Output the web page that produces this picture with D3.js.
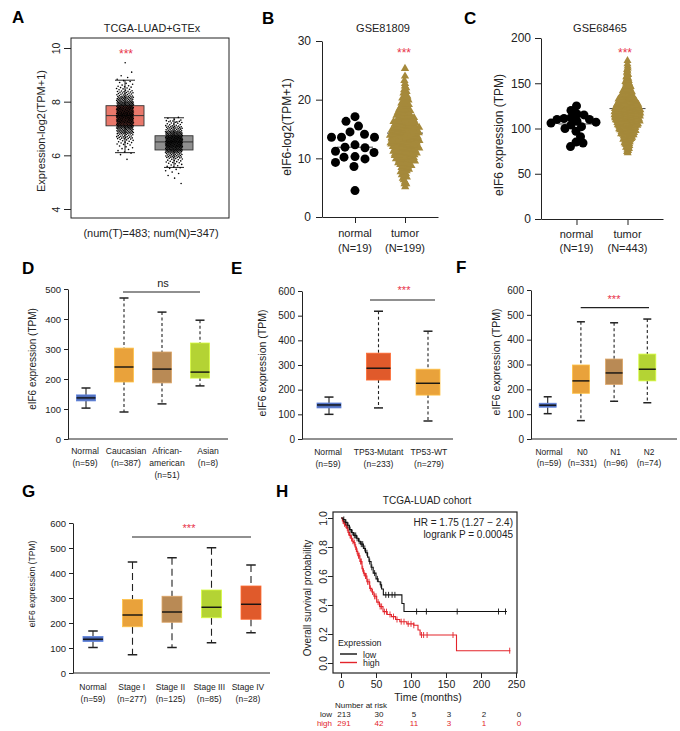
<!DOCTYPE html>
<html><head><meta charset="utf-8">
<script src="https://cdn.jsdelivr.net/npm/d3@7"></script>
<style>
body{margin:0;background:#fff;}
svg{display:block;}
</style></head><body>
<svg id="fig" width="680" height="731"></svg>
<script>
// ================= DATA =================
// Panel A  (TCGA-LUAD+GTEx, log2(TPM+1))
const aCategories = ["Tumor", "Normal"];
const aLow    = [6.10, 5.55];
const aQ1     = [7.10, 6.20];
const aMedian = [7.48, 6.50];
const aQ3     = [7.85, 6.73];
const aHigh   = [8.80, 7.40];
const aYTicks = [4, 6, 8, 10];
const aTumorBinValues  = [5.85, 6.1, 6.3, 6.5, 6.7, 6.9, 7.1, 7.3, 7.5, 7.7, 7.9, 8.1, 8.3, 8.5, 8.7, 8.9, 9.1, 9.45];
const aTumorBinCounts  = [1, 4, 6, 12, 22, 38, 55, 68, 76, 68, 52, 36, 22, 12, 6, 3, 1, 1];
const aNormalBinValues = [4.95, 5.2, 5.4, 5.6, 5.8, 6.0, 6.2, 6.4, 6.6, 6.8, 7.0, 7.2, 7.33];
const aNormalBinCounts = [1, 2, 4, 8, 14, 28, 50, 70, 72, 50, 28, 14, 6];

// Panel B  (GSE81809)
const bCategories = ["normal", "tumor"];
const bCounts = ["(N=19)", "(N=199)"];
const bYTicks = [0, 10, 20, 30];
const bNormal = [4.5, 8.6, 9.3, 9.9, 10.2, 10.3, 11.0, 11.2, 11.8, 11.9, 12.3, 13.6, 13.6, 13.6, 14.1, 14.5, 15.5, 16.3, 17.1];
const bTumorBinValues = [5.4, 6, 7, 8, 9, 10, 11, 12, 13, 14, 15, 16, 17, 18, 19, 20, 21, 22, 23, 24, 25.3];
const bTumorBinCounts = [2, 3, 5, 7, 10, 14, 17, 19, 20, 20, 19, 16, 13, 10, 7, 6, 4, 3, 2, 1, 1];
const bMeans = [11.9, 14.3];

// Panel C  (GSE68465)
const cCategories = ["normal", "tumor"];
const cCounts = ["(N=19)", "(N=443)"];
const cYTicks = [0, 50, 100, 150, 200];
const cNormal = [80, 84, 85, 91, 97, 100, 102, 104, 106, 107, 108, 110, 110, 111, 112, 115, 116, 120, 125];
const cTumorBinValues = [75, 80, 85, 90, 95, 100, 105, 110, 115, 120, 125, 130, 135, 140, 145, 150, 155, 160, 165, 170, 175];
const cTumorBinCounts = [4, 8, 12, 18, 26, 32, 40, 46, 49, 49, 43, 34, 25, 19, 13, 9, 6, 4, 3, 2, 1];
const cMeans = [105, 122];

// Panel D  (race)
const dCategories = ["Normal", "Caucasian", "African-american", "Asian"];
const dLabelLines = [["Normal", "(n=59)"], ["Caucasian", "(n=387)"], ["African-", "american", "(n=51)"], ["Asian", "(n=8)"]];
const dMin    = [103, 90, 117, 177];
const dQ1     = [127, 190, 187, 203];
const dMedian = [137, 240, 233, 223];
const dQ3     = [147, 303, 290, 320];
const dMax    = [170, 470, 423, 396];
const dYTicks = [0, 100, 200, 300, 400, 500];

// Panel E  (TP53 status)
const eCategories = ["Normal", "TP53-Mutant", "TP53-WT"];
const eLabelLines = [["Normal", "(n=59)"], ["TP53-Mutant", "(n=233)"], ["TP53-WT", "(n=279)"]];
const eMin    = [100, 126, 73];
const eQ1     = [126, 239, 178];
const eMedian = [138, 287, 226];
const eQ3     = [146, 348, 283];
const eMax    = [170, 518, 437];
const eYTicks = [0, 100, 200, 300, 400, 500, 600];

// Panel F  (nodal metastasis)
const fCategories = ["Normal", "N0", "N1", "N2"];
const fLabelLines = [["Normal", "(n=59)"], ["N0", "(n=331)"], ["N1", "(n=96)"], ["N2", "(n=74)"]];
const fMin    = [102, 74, 152, 146];
const fQ1     = [128, 184, 220, 234];
const fMedian = [136, 234, 266, 281];
const fQ3     = [144, 298, 322, 342];
const fMax    = [170, 472, 468, 483];
const fYTicks = [0, 100, 200, 300, 400, 500, 600];

// Panel G  (stage)
const gCategories = ["Normal", "Stage I", "Stage II", "Stage III", "Stage IV"];
const gLabelLines = [["Normal", "(n=59)"], ["Stage I", "(n=277)"], ["Stage II", "(n=125)"], ["Stage III", "(n=85)"], ["Stage IV", "(n=28)"]];
const gMin    = [102, 73, 102, 121, 161];
const gQ1     = [126, 185, 203, 221, 215];
const gMedian = [135, 232, 244, 263, 275];
const gQ3     = [146, 294, 307, 332, 348];
const gMax    = [168, 444, 461, 501, 432];
const gYTicks = [0, 100, 200, 300, 400, 500, 600];

// Panel H  (Kaplan-Meier, TCGA-LUAD)
const hXTicks = [0, 50, 100, 150, 200, 250];
const hYTicks = [0, 0.2, 0.4, 0.6, 0.8, 1.0];
const kmLowTimes  = [0, 3, 6, 9, 12, 15, 18, 22, 25, 28, 32, 35, 38, 40, 43, 46, 50, 53, 56, 58, 60.5, 87, 90];
const kmLowSurv   = [1, 0.99, 0.97, 0.95, 0.92, 0.90, 0.88, 0.86, 0.84, 0.82, 0.79, 0.76, 0.73, 0.70, 0.66, 0.62, 0.58, 0.56, 0.54, 0.51, 0.47, 0.41, 0.355];
const kmLowEnd = 237;
const kmHighTimes = [0, 2, 4, 6, 8, 10, 12, 14, 16, 18, 20, 22, 24, 27, 30, 32, 34, 37, 41, 44, 47, 51, 55, 60, 66, 72, 78, 84, 94, 104, 110, 113, 165];
const kmHighSurv  = [1, 0.98, 0.96, 0.95, 0.93, 0.90, 0.88, 0.86, 0.84, 0.83, 0.80, 0.77, 0.74, 0.70, 0.65, 0.62, 0.60, 0.56, 0.515, 0.49, 0.46, 0.42, 0.39, 0.354, 0.335, 0.32, 0.30, 0.285, 0.27, 0.26, 0.228, 0.193, 0.085];
const kmHighEnd = 242;
const kmLowCensor  = [4, 7, 10, 13, 16, 19, 21, 23, 26, 29, 31, 34, 37, 41, 44, 48, 52, 57, 64, 68, 73, 77, 108, 122, 166, 225, 235];
const kmHighCensor = [3, 5, 7, 9, 11, 13, 15, 17, 19, 21, 23, 25, 26, 28, 29, 31, 33, 35, 36, 38, 40, 42, 45, 48, 50, 53, 56, 58, 62, 65, 70, 75, 80, 86, 90, 96, 100, 104, 115, 118, 123, 160, 241];
const riskTimes = [0, 50, 100, 150, 200, 250];
const riskLow  = [213, 30, 5, 3, 2, 0];
const riskHigh = [291, 42, 11, 3, 1, 0];

// ================= DRAWING =================
const FONT = '"Liberation Sans", Arial, Helvetica, sans-serif';
const INK = "#222";
const STAR = "#E8334A";
const svg = d3.select("#fig");
svg.append("rect").attr("width", 680).attr("height", 731).attr("fill", "#fff");

function styleAxis(sel, size) {
  sel.attr("font-family", FONT).attr("font-size", size);
  sel.selectAll("text").attr("fill", INK);
  sel.selectAll("line,path").attr("stroke", INK);
}
function txt(x, y, s, o = {}) {
  const t = svg.append("text").attr("x", x).attr("y", y).text(s)
    .attr("font-family", FONT).attr("font-size", o.size || 11)
    .attr("text-anchor", o.anchor || "middle").attr("fill", o.fill || INK);
  if (o.weight) t.attr("font-weight", o.weight);
  if (o.rotate) t.attr("transform", `rotate(-90,${x},${y})`);
  return t;
}
function line(x1, y1, x2, y2, o = {}) {
  const l = svg.append("line").attr("x1", x1).attr("y1", y1).attr("x2", x2).attr("y2", y2)
    .attr("stroke", o.stroke || INK).attr("stroke-width", o.width || 1);
  if (o.dash) l.attr("stroke-dasharray", o.dash);
  return l;
}
function rotateAxisLabels(ax, offset) {
  ax.selectAll("text").attr("x", null).attr("dy", null).attr("y", null)
    .attr("text-anchor", "middle").attr("transform", `translate(${-offset},0) rotate(-90)`);
}

// panel letters
[["A", 12, 23], ["B", 262, 24], ["C", 464, 24], ["D", 22, 274], ["E", 231, 274], ["F", 456, 273], ["G", 22, 497], ["H", 276, 497]]
  .forEach(([l, x, y]) => txt(x, y, l, { size: 17, weight: "bold", anchor: "start", fill: "#000" }));

// ---------- Panel A ----------
(function () {
  const y = d3.scaleLinear().domain([4, 10]).range([209, 48]);
  const x = d3.scalePoint().domain(aCategories).range([125, 174]);
  svg.append("rect").attr("x", 71).attr("y", 38).attr("width", 158).attr("height", 180)
    .attr("fill", "none").attr("stroke", INK).attr("stroke-width", 1);
  const ax = svg.append("g").attr("transform", "translate(71,0)")
    .call(d3.axisLeft(y).tickValues(aYTicks).tickSize(7).tickSizeOuter(0).tickFormat(d3.format("d")));
  styleAxis(ax, 10.5);
  ax.select(".domain").remove();
  rotateAxisLabels(ax, 11);
  const fills = ["#E9786B", "#8F8F8F"];
  aCategories.forEach((c, i) => {
    const cx = x(c);
    line(cx, y(aHigh[i]), cx, y(aQ3[i]));
    line(cx, y(aQ1[i]), cx, y(aLow[i]));
    line(cx - 10, y(aHigh[i]), cx + 10, y(aHigh[i]));
    line(cx - 10, y(aLow[i]), cx + 10, y(aLow[i]));
    svg.append("rect").attr("x", cx - 19).attr("width", 38)
      .attr("y", y(aQ3[i])).attr("height", y(aQ1[i]) - y(aQ3[i]))
      .attr("fill", fills[i]).attr("stroke", "#333").attr("stroke-width", 0.9);
    line(cx - 19, y(aMedian[i]), cx + 19, y(aMedian[i]), { stroke: "#333" });
  });
  const pts = [];
  [[aTumorBinValues, aTumorBinCounts, 0], [aNormalBinValues, aNormalBinCounts, 1]].forEach(([vals, cnts, gi]) => {
    let k = 0;
    vals.forEach((v, j) => {
      const n = cnts[j];
      for (let i = 0; i < n; i++) {
        const val = v - 0.1 + 0.2 * (i + 0.5) / n;
        const frac = ((k + 1) * 0.6180339887 + gi * 0.3) % 1;
        pts.push({ x: x(aCategories[gi]) + (frac - 0.5) * 17, y: y(val) });
        k++;
      }
    });
  });
  svg.append("g").selectAll("circle").data(pts).join("circle")
    .attr("cx", d => d.x).attr("cy", d => d.y).attr("r", 0.8).attr("fill", "#000");
  txt(152, 32, "TCGA-LUAD+GTEx", { size: 10.8 });
  txt(126, 58, "***", { size: 12, fill: STAR });
  txt(151, 237, "(num(T)=483; num(N)=347)", { size: 11 });
  txt(45, 131, "Expression-log2(TPM+1)", { size: 11, rotate: true });
})();

// swarm helpers
function beeswarm(vals, y, r) {
  const pts = vals.map(v => ({ v, py: y(v) })).sort((a, b) => a.py - b.py);
  const placed = [];
  const d2 = 4 * r * r;
  pts.forEach(p => {
    let dx = 0;
    for (let k = 0; k < 400; k++) {
      const off = (k % 2 === 0 ? 1 : -1) * Math.ceil(k / 2) * 0.5;
      if (placed.every(q => (q.dx - off) ** 2 + (q.py - p.py) ** 2 >= d2)) { dx = off; break; }
    }
    p.dx = dx; placed.push(p);
  });
  return placed;
}
function binnedSwarm(vals, cnts, binW, pxPer) {
  const pts = [];
  vals.forEach((v, j) => {
    const n = cnts[j];
    for (let i = 0; i < n; i++) {
      const val = v - binW / 2 + binW * (i + 0.5) / n;
      const frac = ((i + 1) * 0.6180339887 + j * 0.2718) % 1;
      pts.push({ v: val, dx: (frac - 0.5) * (n - 1) * pxPer });
    }
  });
  return pts;
}

function dotPanel(p) {
  const y = d3.scaleLinear().domain(p.domain).range(p.yRange);
  const x = d3.scalePoint().domain(p.categories).range(p.xRange).padding(p.pad);
  const ay = svg.append("g").attr("transform", `translate(${p.xRange[0]},0)`)
    .call(d3.axisLeft(y).tickValues(p.ticks).tickSize(6).tickPadding(p.tickPad).tickSizeOuter(0));
  styleAxis(ay, p.tickFont);
  const axb = svg.append("g").attr("transform", `translate(0,${p.yRange[0]})`)
    .call(d3.axisBottom(x).tickSize(6).tickSizeOuter(0).tickFormat(""));
  styleAxis(axb, 11);
  p.means.forEach((m, i) => {
    line(x(p.categories[i]) - 18, y(m), x(p.categories[i]) + 18, y(m), { stroke: "#444", width: 1 });
  });
  const gold = "#A5893B";
  const tumorPts = binnedSwarm(p.binVals, p.binCnts, p.binW, p.pxPer);
  svg.append("g").selectAll("path").data(tumorPts).join("path")
    .attr("d", d3.symbol(d3.symbolTriangle).size(p.triSize)())
    .attr("transform", d => `translate(${x(p.categories[1]) + d.dx},${y(d.v)})`)
    .attr("fill", gold);
  const normPts = beeswarm(p.normal, y, p.collR);
  svg.append("g").selectAll("circle").data(normPts).join("circle")
    .attr("cx", d => x(p.categories[0]) + d.dx).attr("cy", d => d.py).attr("r", p.dotR).attr("fill", "#000");
  p.categories.forEach((c, i) => {
    txt(x(c), p.lab1, c, { size: 11 });
    txt(x(c), p.lab2, p.counts[i], { size: 11 });
  });
  txt(p.titleX, 32, p.title, { size: 11 });
  txt(p.starX, 57, "***", { size: 12, fill: STAR });
  txt(p.ylabX, p.ylabY, p.ylab, { size: 12, rotate: true });
}

dotPanel({
  domain: [0, 30], yRange: [217, 41], categories: bCategories, xRange: [322, 438], pad: 0.66,
  ticks: bYTicks, tickPad: 5, tickFont: 12, binVals: bTumorBinValues, binCnts: bTumorBinCounts,
  binW: 1, pxPer: 1.6, triSize: 30, normal: bNormal, collR: 5, dotR: 4.5, means: bMeans,
  counts: bCounts, lab1: 237, lab2: 252, title: "GSE81809", titleX: 383, starX: 404,
  ylab: "eIF6-log2(TPM+1)", ylabX: 291, ylabY: 127
});
dotPanel({
  domain: [0, 200], yRange: [219, 38], categories: cCategories, xRange: [541, 663], pad: 0.696,
  ticks: cYTicks, tickPad: 4, tickFont: 12, binVals: cTumorBinValues, binCnts: cTumorBinCounts,
  binW: 5, pxPer: 0.55, triSize: 28, normal: cNormal, collR: 3.4, dotR: 4.5, means: cMeans,
  counts: cCounts, lab1: 238, lab2: 252, title: "GSE68465", titleX: 600, starX: 625,
  ylab: "eIF6 expression (TPM)", ylabX: 503, ylabY: 135
});

// ---------- Box panels D-G ----------
function boxPanel(p) {
  const y = d3.scaleLinear().domain(p.domain).range(p.yRange);
  const x = d3.scalePoint().domain(p.categories).range(p.xRange);
  const xl = d3.scalePoint().domain(p.categories).range(p.labelRange);
  const ax = svg.append("g").attr("transform", `translate(${p.axisX},0)`)
    .call(d3.axisLeft(y).tickValues(p.ticks).tickSize(4).tickPadding(3).tickSizeOuter(0));
  styleAxis(ax, p.tickFont);
  line(p.axisX, y(0), p.axisEnd, y(0));
  p.categories.forEach((c, i) => {
    const cx = x(c), hw = p.boxW / 2, cw = p.capW / 2;
    const dash = i === 0 ? null : p.dash;
    line(cx, y(p.max[i]), cx, y(p.q3[i]), { dash, width: 1.1 });
    line(cx, y(p.q1[i]), cx, y(p.min[i]), { dash, width: 1.1 });
    line(cx - cw, y(p.max[i]), cx + cw, y(p.max[i]), { width: 1.5 });
    line(cx - cw, y(p.min[i]), cx + cw, y(p.min[i]), { width: 1.5 });
    svg.append("rect").attr("x", cx - hw).attr("width", p.boxW)
      .attr("y", y(p.q3[i])).attr("height", y(p.q1[i]) - y(p.q3[i]))
      .attr("fill", p.colors[i]).attr("stroke", d3.color(p.colors[i]).brighter(0.5)).attr("stroke-width", 0.8);
    line(cx - hw, y(p.med[i]), cx + hw, y(p.med[i]), { width: 1.4, stroke: "#111" });
    p.labels[i].forEach((s, k) => txt(xl(c), p.labelY + k * p.labelDy, s, { size: p.labFont }));
  });
  line(p.bar[0], p.bar[2], p.bar[1], p.bar[2], { width: 1.2 });
  if (p.sig === "ns") txt(p.sigX, p.sigY, "ns", { size: 11 });
  else txt(p.sigX, p.sigY, "***", { size: 11, fill: STAR });
  txt(p.ylabX, p.ylabY, "eIF6 expression (TPM)", { size: p.ylabFont, rotate: true });
}
const blue = "#4F6DB9", orange = "#E9A23B", brown = "#B98A55", lime = "#B4D334", redOr = "#E05A2B";

boxPanel({
  domain: [0, 500], yRange: [439, 289], categories: dCategories, xRange: [86, 200], labelRange: [85, 208],
  axisX: 68, axisEnd: 228, ticks: dYTicks, tickFont: 9.5, boxW: 19, capW: 9, dash: "3,2.5",
  min: dMin, q1: dQ1, med: dMedian, q3: dQ3, max: dMax, colors: [blue, orange, brown, lime],
  labels: dLabelLines, labelY: 454, labelDy: 12, labFont: 8.6,
  bar: [123, 200, 292], sig: "ns", sigX: 163, sigY: 287, ylabX: 36, ylabY: 359, ylabFont: 10
});
boxPanel({
  domain: [0, 600], yRange: [439, 291], categories: eCategories, xRange: [329, 428], labelRange: [328, 429],
  axisX: 302, axisEnd: 453, ticks: eYTicks, tickFont: 10, boxW: 24, capW: 9, dash: "3,2.5",
  min: eMin, q1: eQ1, med: eMedian, q3: eQ3, max: eMax, colors: [blue, redOr, orange],
  labels: eLabelLines, labelY: 455, labelDy: 11.5, labFont: 8.6,
  bar: [370, 435, 300], sig: "***", sigX: 404, sigY: 294, ylabX: 266, ylabY: 363, ylabFont: 10.5
});
boxPanel({
  domain: [0, 600], yRange: [439, 290], categories: fCategories, xRange: [547.7, 647.3], labelRange: [549, 649],
  axisX: 531, axisEnd: 677, ticks: fYTicks, tickFont: 10, boxW: 17, capW: 8, dash: "3,2.5",
  min: fMin, q1: fQ1, med: fMedian, q3: fQ3, max: fMax, colors: [blue, orange, brown, lime],
  labels: fLabelLines, labelY: 455, labelDy: 11, labFont: 8.4,
  bar: [580.7, 649, 307.7], sig: "***", sigX: 614, sigY: 303, ylabX: 500, ylabY: 362, ylabFont: 10.5
});
boxPanel({
  domain: [0, 600], yRange: [673, 523], categories: gCategories, xRange: [93, 251], labelRange: [93, 248],
  axisX: 73, axisEnd: 270, ticks: gYTicks, tickFont: 9.5, boxW: 20, capW: 9.5, dash: "7,4",
  min: gMin, q1: gQ1, med: gMedian, q3: gQ3, max: gMax, colors: [blue, orange, brown, lime, redOr],
  labels: gLabelLines, labelY: 690, labelDy: 11.5, labFont: 8.5,
  bar: [132, 251, 537], sig: "***", sigX: 189, sigY: 532, ylabX: 35, ylabY: 584, ylabFont: 8.5
});

// ---------- Panel H ----------
(function () {
  const x = d3.scaleLinear().domain([0, 250]).range([341, 516]);
  const y = d3.scaleLinear().domain([0, 1]).range([663, 518]);
  svg.append("rect").attr("x", 333).attr("y", 512).attr("width", 184).attr("height", 161)
    .attr("fill", "none").attr("stroke", INK).attr("stroke-width", 1.2);
  const axb = svg.append("g").attr("transform", "translate(0,673)")
    .call(d3.axisBottom(x).tickValues(hXTicks).tickSize(5).tickPadding(3));
  styleAxis(axb, 10.5); axb.select(".domain").remove();
  const axl = svg.append("g").attr("transform", "translate(333,0)")
    .call(d3.axisLeft(y).tickValues(hYTicks).tickSize(5).tickFormat(d3.format(".1f")));
  styleAxis(axl, 10.5); axl.select(".domain").remove();
  rotateAxisLabels(axl, 6.5);
  const lineGen = d3.line().x(d => x(d[0])).y(d => y(d[1])).curve(d3.curveStepAfter);
  const groups = [
    { t: kmLowTimes, s: kmLowSurv, end: kmLowEnd, c: kmLowCensor, col: "#111" },
    { t: kmHighTimes, s: kmHighSurv, end: kmHighEnd, c: kmHighCensor, col: "#E3242B" }
  ];
  groups.slice().reverse().forEach(g => {
    const pts = g.t.map((t, i) => [t, g.s[i]]);
    pts.push([g.end, g.s[g.s.length - 1]]);
    svg.append("path").attr("d", lineGen(pts)).attr("fill", "none").attr("stroke", g.col).attr("stroke-width", 1.1);
    const survAt = t => { let v = 1; g.t.forEach((tt, i) => { if (tt <= t) v = g.s[i]; }); return v; };
    g.c.forEach(t => line(x(t), y(survAt(t)) - 3, x(t), y(survAt(t)) + 3, { stroke: g.col, width: 0.9 }));
  });
  txt(427, 504, "TCGA-LUAD cohort", { size: 10 });
  txt(513, 526, "HR = 1.75 (1.27 \u2212 2.4)", { size: 10, anchor: "end" });
  txt(513, 538, "logrank P = 0.00045", { size: 10, anchor: "end" });
  txt(338, 646, "Expression", { size: 8.8, anchor: "start" });
  line(340, 654, 357, 654, { stroke: "#111", width: 1.4 });
  line(340, 662.5, 357, 662.5, { stroke: "#E3242B", width: 1.4 });
  txt(363, 657.5, "low", { size: 8.8, anchor: "start" });
  txt(363, 666, "high", { size: 8.8, anchor: "start" });
  txt(428, 701, "Time (months)", { size: 10.5 });
  txt(311, 598, "Overall survival probability", { size: 10, rotate: true });
  txt(361, 707.5, "Number at risk", { size: 8 });
  txt(332, 716.5, "low", { size: 8, anchor: "end" });
  txt(332, 725.5, "high", { size: 8, anchor: "end", fill: "#E3242B" });
  riskTimes.forEach((t, i) => {
    txt(x(t) + 3, 716.5, riskLow[i], { size: 8 });
    txt(x(t) + 3, 725.5, riskHigh[i], { size: 8, fill: "#E3242B" });
  });
})();
</script>
</body></html>
